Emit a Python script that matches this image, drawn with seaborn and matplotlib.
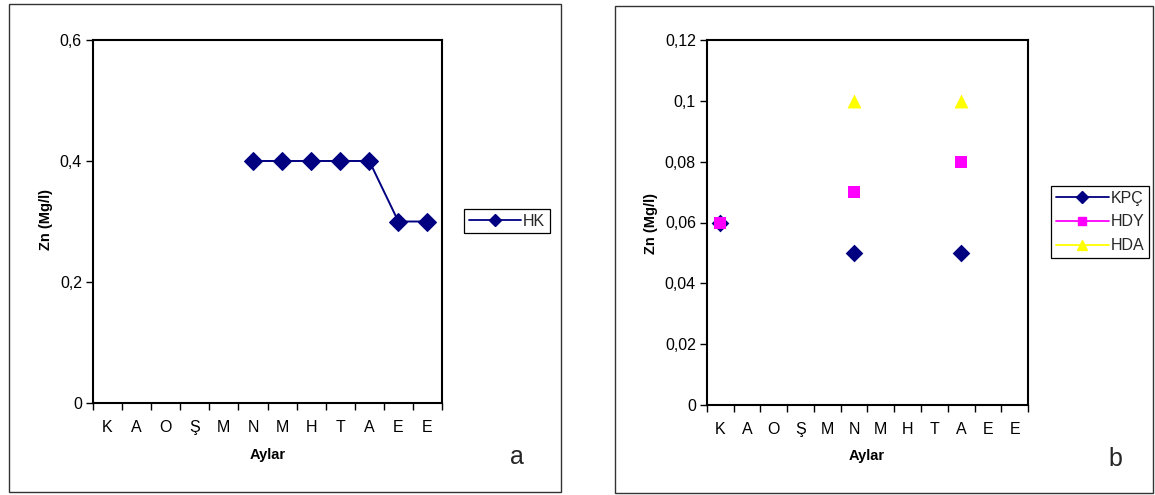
import numpy as np
import pandas as pd
import matplotlib
matplotlib.use("Agg")
import matplotlib.pyplot as plt
from matplotlib.lines import Line2D
from matplotlib.patches import Rectangle
from matplotlib.ticker import FixedLocator, FuncFormatter
import seaborn as sns

# Months (Turkish initials) shown on the x axis
months = ["K", "A", "O", "Ş", "M", "N", "M", "H", "T", "A", "E", "E"]

# Panel a: Zn (mg/l) at HK, one value per month (None = not measured)
hk = [None, None, None, None, None, 0.4, 0.4, 0.4, 0.4, 0.4, 0.3, 0.3]

# Panel b: Zn (mg/l) at three stations
kpc = [0.06, None, None, None, None, 0.05, None, None, None, 0.05, None, None]
hdy = [0.06, None, None, None, None, 0.07, None, None, None, 0.08, None, None]
hda = [None, None, None, None, None, 0.10, None, None, None, 0.10, None, None]

yticks_a = [0, 0.2, 0.4, 0.6]
yticks_b = [0, 0.02, 0.04, 0.06, 0.08, 0.10, 0.12]

sns.set_theme(style="white")
plt.rcParams["font.family"] = ["Liberation Sans", "DejaVu Sans"]

W, H = 1155, 495
fig = plt.figure(figsize=(W / 100, H / 100), dpi=100)
fig.patch.set_facecolor("white")

TICK_FS = 11.5


def px_axes(x0, y0, x1, y1):
    return fig.add_axes([x0 / W, 1 - y1 / H, (x1 - x0) / W, (y1 - y0) / H])


def comma(v, _pos=None):
    if abs(v) < 1e-12:
        return "0"
    s = f"{v:.2f}".rstrip("0").rstrip(".")
    return s.replace(".", ",")


def style_axes(ax, yticks):
    n = len(months)
    ax.set_xlim(-0.5, n - 0.5)
    ax.set_ylim(yticks[0], yticks[-1])
    ax.set_facecolor("white")
    for sp in ax.spines.values():
        sp.set_visible(True)
        sp.set_color("black")
        sp.set_linewidth(1.5)
    # category boundaries carry the tick marks, labels sit between them
    ax.xaxis.set_major_locator(FixedLocator(np.arange(-0.5, n, 1.0)))
    ax.xaxis.set_major_formatter(FuncFormatter(lambda v, p: ""))
    ax.xaxis.set_minor_locator(FixedLocator(np.arange(n)))
    ax.set_xticks(np.arange(n), labels=months, minor=True)
    ax.tick_params(axis="x", which="major", bottom=True, length=5, width=1,
                   color="black", direction="out")
    ax.tick_params(axis="x", which="minor", bottom=True, length=0, pad=12,
                   labelsize=TICK_FS, labelcolor="black")
    ax.set_yticks(yticks)
    ax.yaxis.set_major_formatter(FuncFormatter(comma))
    ax.tick_params(axis="y", left=True, length=5, width=1, color="black",
                   direction="out", labelsize=TICK_FS, labelcolor="black",
                   pad=3)
    ax.grid(False)
    ax.set_xlabel("")
    ax.set_ylabel("")


x = np.arange(len(months))
navy = "#000080"
magenta = "#FF00FF"
yellow = "#FFFF00"

# ---- panel a -------------------------------------------------------------
ax1 = px_axes(93, 40, 442, 403)
df_a = pd.DataFrame({"x": x, "Zn": hk}).dropna()
sns.lineplot(data=df_a, x="x", y="Zn", ax=ax1, color=navy, linewidth=1.4,
             marker="D", markersize=9, markeredgecolor=navy,
             markerfacecolor=navy, sort=False, legend=False)
style_axes(ax1, yticks_a)

# ---- panel b -------------------------------------------------------------
ax2 = px_axes(707, 40, 1028, 405)
for vals, col, mk, ms in [(hda, yellow, "^", 10), (kpc, navy, "D", 9),
                          (hdy, magenta, "s", 8)]:
    d = pd.DataFrame({"x": x, "Zn": vals}).dropna()
    sns.scatterplot(data=d, x="x", y="Zn", ax=ax2, color=col, marker=mk,
                    s=ms ** 2, edgecolor=col, linewidth=0, legend=False,
                    zorder=3)
style_axes(ax2, yticks_b)

# ---- labels ----------------------------------------------------------------
lab = dict(fontsize=10.5, fontweight="bold", color="black")
fig.text(268 / W, 1 - 455 / H, "Aylar", ha="center", va="center", **lab)
fig.text(867 / W, 1 - 456 / H, "Aylar", ha="center", va="center", **lab)
fig.text(46 / W, 1 - 220 / H, "Zn (Mg/l)", rotation=90, ha="center",
         va="center", **lab)
fig.text(651 / W, 1 - 223 / H, "Zn (Mg/l)", rotation=90, ha="center",
         va="center", **lab)
fig.text(517 / W, 1 - 457 / H, "a", fontsize=18, ha="center", va="center")
fig.text(1115 / W, 1 - 459 / H, "b", fontsize=18, ha="center", va="center")

# ---- legends ---------------------------------------------------------------
leg_kw = dict(loc="center", frameon=True, fancybox=False, shadow=False,
              edgecolor="black", framealpha=1, fontsize=TICK_FS,
              handlelength=3.3, handletextpad=0.1, borderpad=0.3,
              borderaxespad=0)

h_a = [Line2D([], [], color=navy, lw=1.3, marker="D", markersize=6,
              markerfacecolor=navy, markeredgecolor=navy)]
lg1 = fig.legend(h_a, ["HK"], bbox_to_anchor=(507 / W, 1 - 221 / H),
                 **leg_kw)
lg1.get_frame().set_linewidth(0.9)

h_b = [Line2D([], [], color=navy, lw=1.3, marker="D", markersize=6,
              markerfacecolor=navy, markeredgecolor=navy),
       Line2D([], [], color=magenta, lw=1.3, marker="s", markersize=6,
              markerfacecolor=magenta, markeredgecolor=magenta),
       Line2D([], [], color=yellow, lw=1.3, marker="^", markersize=7,
              markerfacecolor=yellow, markeredgecolor=yellow)]
lg2 = fig.legend(h_b, ["KPÇ", "HDY", "HDA"],
                 bbox_to_anchor=(1100 / W, 1 - 222 / H),
                 labelspacing=0.55, **leg_kw)
lg2.get_frame().set_linewidth(0.9)

# ---- panel frames ----------------------------------------------------------
for (x0, y0, x1, y1) in [(9, 4, 561, 492), (615, 6, 1153, 493)]:
    fig.add_artist(Rectangle((x0 / W, 1 - y1 / H), (x1 - x0) / W,
                             (y1 - y0) / H, transform=fig.transFigure,
                             fill=False, edgecolor="#333333", linewidth=1.0))

fig.savefig("out.png", dpi=100, facecolor="white")
